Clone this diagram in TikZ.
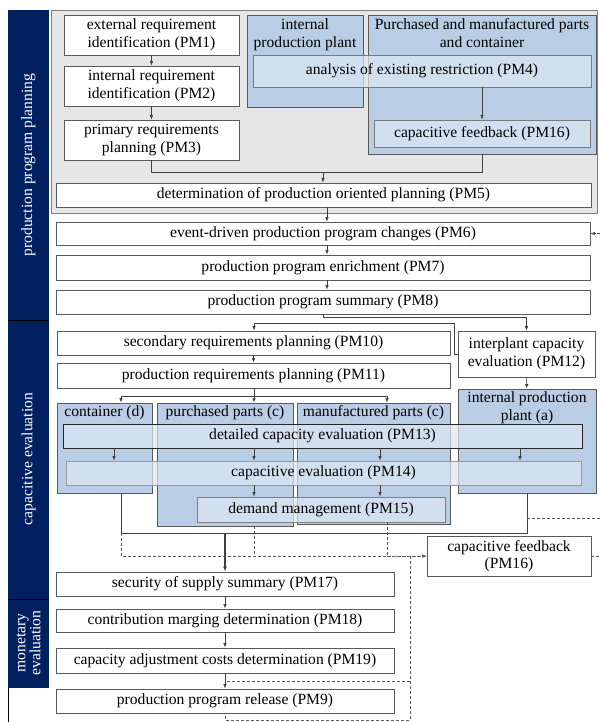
\documentclass[tikz,border=0pt]{standalone}
\usepackage{fontspec}
\setmainfont{Liberation Serif}
\usetikzlibrary{arrows.meta,calc}
\definecolor{navy}{HTML}{002060}
\definecolor{bluebox}{HTML}{B9CDE5}
\definecolor{lightbox}{HTML}{DCE6F2}
\definecolor{bgray}{HTML}{E6E6E6}
\definecolor{edge}{HTML}{595959}
\newcommand\mkbox[7]{\node[#1, minimum width={#5-#3}, minimum height={#6-#4}] (#2) at ({(#3+#5)/2},{(#4+#6)/2}) {#7};}
\tikzset{
  tf/.style={font=\fontsize{15.6}{17.6}\selectfont},
  wbox/.style={draw=edge, fill=white, line width=0.8pt, inner sep=1pt, align=center, tf},
  gbox/.style={draw=edge, fill=bluebox, line width=0.8pt, inner sep=0pt},
  lbox/.style={draw=edge!80, fill=lightbox, fill opacity=0.72, text opacity=1, line width=0.8pt, inner sep=1pt, align=center, tf},
  glabel/.style={anchor=north, inner sep=1pt, yshift=-3pt, align=center, tf},
  ln/.style={draw=black!75, line width=0.7pt},
  arr/.style={ln, -{Latex[length=4.5pt,width=3.5pt]}},
  dsh/.style={draw=black!65, line width=0.7pt, dash pattern=on 3pt off 2pt},
  sidetxt/.style={rotate=90, text=white, align=center, tf},
}
\begin{document}
\begin{tikzpicture}[x=1pt,y=-1pt]
\useasboundingbox (0,0) rectangle (600,722);
% sidebar
\fill[navy] (8,10) rectangle (49,320);
\fill[navy] (8,320) rectangle (49,599);
\fill[navy] (8,599) rectangle (49,688);
\draw[black, line width=0.8pt] (8,320) -- (49,320);
\draw[black, line width=0.8pt] (8,599) -- (49,599);
\draw[black, line width=0.8pt] (8,688) -- (8,722);
\node[sidetxt] (s1) at (28.5,165) {production program planning};
\node[sidetxt] (s2) at (28.5,459) {capacitive evaluation};
\node[sidetxt, font=\fontsize{15.6}{15}\selectfont] (s3) at (28.5,643) {monetary\\evaluation};
% top grey block
\mkbox{draw=gray, fill=bgray, line width=1pt}{bg}{51}{11}{597}{213}{}
\mkbox{wbox}{pm1}{64}{15}{239}{55}{external requirement\\identification (PM1)}
\mkbox{wbox}{pm2}{64}{66}{239}{106}{internal requirement\\identification (PM2)}
\mkbox{wbox}{pm3}{64}{120}{239}{160}{primary requirements\\planning (PM3)}
\mkbox{gbox}{grpA}{247}{15}{363}{107}{}
\node[glabel] (grpAl) at (grpA.north) {internal\\production plant};
\mkbox{gbox}{grpB}{368}{15}{596}{154}{}
\node[glabel] (grpBl) at (grpB.north) {Purchased and manufactured parts\\and container};
\mkbox{lbox}{pm4}{253}{55}{591}{87}{analysis of existing restriction (PM4)}
\mkbox{lbox}{pm16a}{374}{120}{590}{147}{capacitive feedback (PM16)}
\mkbox{wbox}{pm5}{56}{183}{591}{207}{determination of production oriented planning (PM5)}
% middle chain
\mkbox{wbox}{pm6}{56}{222}{590}{245}{event-driven production program changes (PM6)}
\mkbox{wbox}{pm7}{56}{255}{590}{280}{production program enrichment (PM7)}
\mkbox{wbox}{pm8}{56}{290}{590}{314}{production program summary (PM8)}
\mkbox{wbox}{pm10}{57}{331}{450}{355}{secondary requirements planning (PM10)}
\mkbox{wbox}{pm11}{57}{363}{450}{388}{production requirements planning (PM11)}
\mkbox{wbox}{pm12}{458}{331}{595}{377}{interplant capacity\\evaluation (PM12)}
% capacitive evaluation groups
\mkbox{gbox}{cont}{57}{403}{152}{493}{}
\node[glabel, yshift=1pt] (contl) at (cont.north) {container (d)};
\mkbox{gbox}{purch}{157}{403}{293}{526}{}
\node[glabel, yshift=1pt] (purchl) at (purch.north) {purchased parts (c)};
\mkbox{gbox}{manu}{297}{403}{450}{524}{}
\node[glabel, yshift=1pt] (manul) at (manu.north) {manufactured parts (c)};
\mkbox{gbox}{plant}{458}{389}{596}{493}{}
\node[glabel, yshift=1pt] (plantl) at (plant.north) {internal production\\plant (a)};
\mkbox{lbox, draw=black!85}{pm13}{63}{424}{582}{448}{detailed capacity evaluation (PM13)}
\mkbox{lbox, draw=gray!80}{pm14}{66}{461}{581}{485}{capacitive evaluation (PM14)}
\mkbox{lbox, draw=gray}{pm15}{197}{497}{445}{522}{demand management (PM15)}
\mkbox{wbox}{pm16b}{427}{536}{591}{576}{capacitive feedback\\(PM16)}
% lower chain
\mkbox{wbox}{pm17}{56}{572}{394}{596}{security of supply summary (PM17)}
\mkbox{wbox}{pm18}{56}{609}{394}{632}{contribution marging determination (PM18)}
\mkbox{wbox}{pm19}{56}{648}{394}{673}{capacity adjustment costs determination (PM19)}
\mkbox{wbox}{pm9}{56}{689}{394}{713}{production program release (PM9)}
% guide coordinates
\coordinate (gA) at (121,0);
\coordinate (gB) at (254,0);
\coordinate (gC) at (387,0);
\coordinate (gD) at (114,0);
\coordinate (gE) at (380,0);
\coordinate (gF) at (520,0);
\coordinate (gN) at (327,0);
\coordinate (gL) at (410,0);
\coordinate (gR) at (600,0);
\coordinate (j1) at (323,172);
\coordinate (j2) at (323,317);
\coordinate (j3) at (454,323);
\coordinate (j4) at (254,396);
\coordinate (j5) at (121,533);
\coordinate (j8) at (527,518);
\coordinate (j9) at (410,720);
\coordinate (j10) at (225,681);
% connectors top
\draw[arr] (pm1) -- (pm2);
\draw[arr] (pm2) -- (pm3);
\draw[arr] (pm4.south -| pm16a.north) -- (pm16a.north);
\draw[ln] (pm3.south) |- (j1);
\draw[ln] (pm16a.south |- grpB.south) |- (j1);
\draw[arr] (j1) -- (j1 |- pm5.north);
\draw[arr] (pm5.south -| gN) -- (pm6.north -| gN);
\draw[arr] (pm6.south -| gN) -- (pm7.north -| gN);
\draw[arr] (pm7.south -| gN) -- (pm8.north -| gN);
\draw[dsh, -{Latex[length=4.5pt,width=3.5pt]}] (gR |- pm6.east) -- (pm6.east);
\draw[arr] (j2 |- pm8.south) -- (j2) -| (pm12.north);
\draw[arr] (pm12.west) -| (j3) -| (pm10.north -| gB);
\draw[arr] (pm10) -- (pm11);
\draw[arr] (pm12) -- (plant);
\draw[ln] (pm11.south -| gB) -- (j4);
\draw[arr] (j4) -| (cont.north -| gA);
\draw[arr] (j4) -- (purch.north -| gB);
\draw[arr] (j4) -| (manu.north -| gC);
\foreach \g in {gD,gB,gE,gF} \draw[arr] (pm13.south -| \g) -- (pm14.north -| \g);
\foreach \g in {gB,gE} \draw[arr] (pm14.south -| \g) -- (pm15.north -| \g);
% bottom connectors
\draw[ln] (cont.south -| gA) |- (plant.south |- j5) -- (plant.south);
\draw[dsh] (j8) -- (gR |- j8);
\draw[dsh] (j5) -- (j5 |- pm16b.west) -- (pm16b.west);
\draw[dsh, -{Latex[length=4.5pt,width=3.5pt]}] (gC |- pm16b.west) -- (pm16b.west);
\draw[dsh] (purch.south -| gB) -- (gB |- pm16b.west);
\draw[dsh] (pm15.south -| gC) -- (gC |- pm16b.west);
\draw[dsh] (pm16b.east) -- (gR |- pm16b.east);
\draw[ln, line width=1.3pt, -{Latex[length=5pt,width=4pt]}] (pm17.north |- j5) -- (pm17.north);
\draw[arr] (pm17) -- (pm18);
\draw[arr] (pm18) -- (pm19);
\draw[arr] (pm19) -- (pm9);
\draw[dsh] (gL |- pm16b.west) -- (j9) -| (pm9.south);
\draw[dsh] (gL |- j10) -- (j10);
\end{tikzpicture}
\end{document}
